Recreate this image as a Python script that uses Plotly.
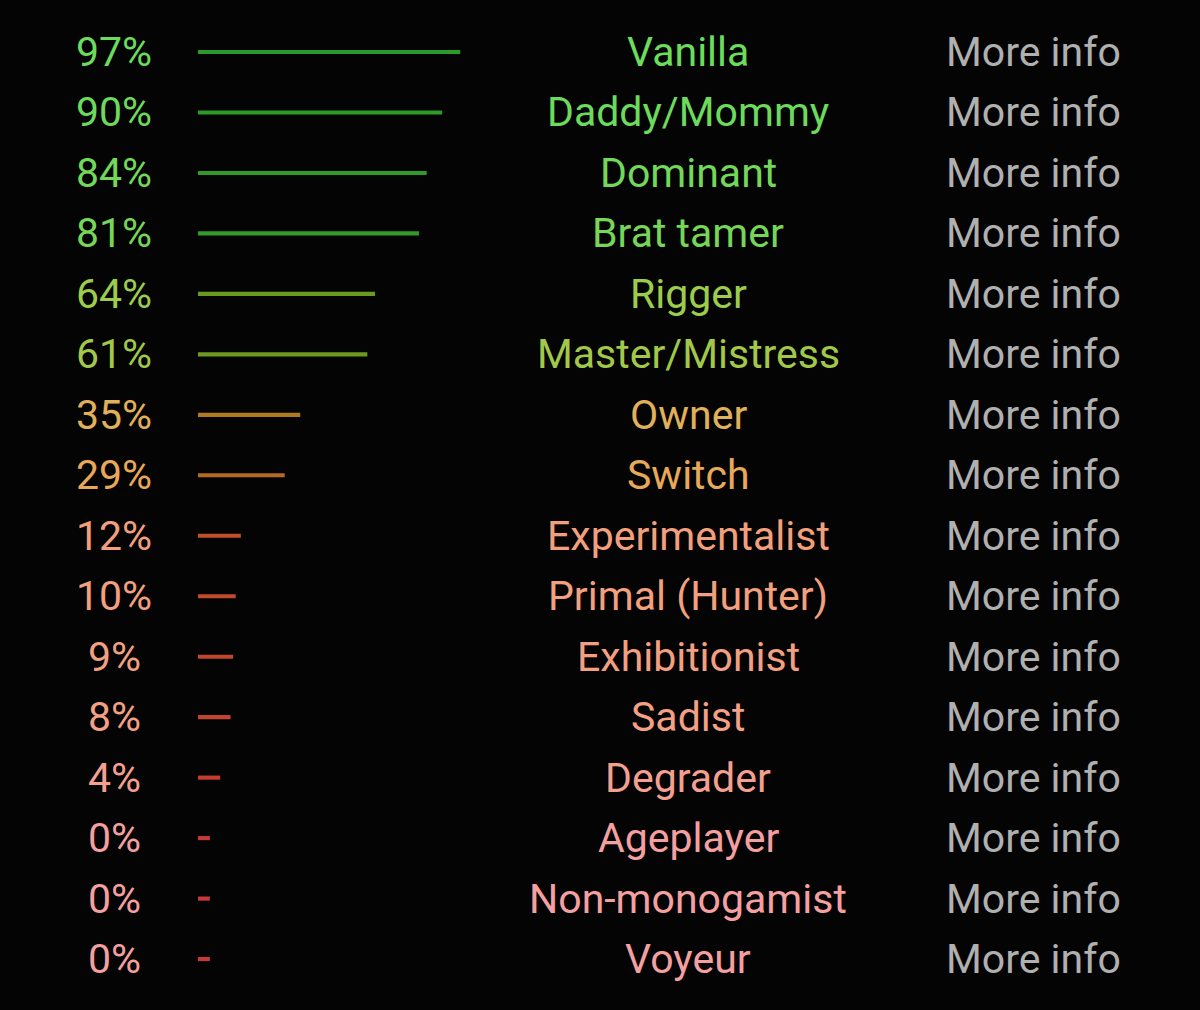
import plotly.graph_objects as go

categories = ["Vanilla", "Daddy/Mommy", "Dominant", "Brat tamer", "Rigger",
              "Master/Mistress", "Owner", "Switch", "Experimentalist",
              "Primal (Hunter)", "Exhibitionist", "Sadist", "Degrader",
              "Ageplayer", "Non-monogamist", "Voyeur"]
percents = [97, 90, 84, 81, 64, 61, 35, 29, 12, 10, 9, 8, 4, 0, 0, 0]
link_label = "More info"

text_colors = ["#6cdc5c", "#6cda5c", "#72d85a", "#76d658", "#9ccc4c", "#a2c84a",
               "#e0b05a", "#e8a85a", "#f2a07c", "#f2a07e", "#f3a082", "#f3a084",
               "#f4a090", "#f4a0a0", "#f4a0a0", "#f4a0a0"]
bar_colors = ["#2c9a28", "#2e9a28", "#309a28", "#329a28", "#6a9a20", "#6e9820",
              "#b07a20", "#b46a22", "#c0502a", "#c04a2a", "#c0462c", "#c0442e",
              "#c63c30", "#c83838", "#c83838", "#c83838"]

STUB = 4.6  # minimum visible stub drawn for every bar (in % units)
W, H = 1200, 1010
FONT = "Roboto"
FS = 41

n = len(categories)
rows = list(range(n))

fig = go.Figure()
fig.add_trace(go.Bar(
    y=rows,
    x=[p + STUB for p in percents],
    base=0,
    orientation="h",
    width=0.068,
    marker=dict(color=bar_colors, line=dict(width=0)),
    hoverinfo="skip",
))

annotations = []
for i, (cat, p) in enumerate(zip(categories, percents)):
    annotations.append(dict(x=114 / W, y=i, xref="paper", yref="y",
                            text=f"{p}%", showarrow=False, xanchor="center",
                            yanchor="middle",
                            font=dict(family=FONT, size=FS, color=text_colors[i])))
    annotations.append(dict(x=688 / W, y=i, xref="paper", yref="y",
                            text=cat, showarrow=False, xanchor="center",
                            yanchor="middle",
                            font=dict(family=FONT, size=FS, color=text_colors[i])))
    annotations.append(dict(x=1033 / W, y=i, xref="paper", yref="y",
                            text=link_label, showarrow=False, xanchor="center",
                            yanchor="middle",
                            font=dict(family=FONT, size=FS, color="#b0b0b0")))

pitch = 60.47
top = 52
y_lo = -top / pitch
y_hi = (H - top) / pitch

fig.update_layout(
    width=W, height=H,
    margin=dict(l=0, r=0, t=0, b=0),
    paper_bgcolor="#040404",
    plot_bgcolor="rgba(0,0,0,0)",
    showlegend=False,
    annotations=annotations,
    xaxis=dict(domain=[198 / W, (198 + 270) / W], range=[0, 100 + STUB],
               visible=False, fixedrange=True),
    yaxis=dict(range=[y_hi, y_lo], visible=False, fixedrange=True),
)

fig.write_html("out.html")
